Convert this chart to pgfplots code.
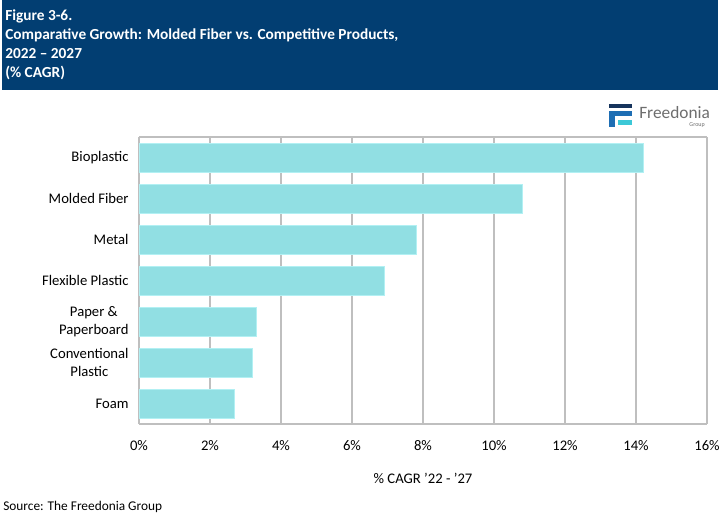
\documentclass[border=0pt]{standalone}
\usepackage{pgfplots}
\pgfplotsset{compat=1.18}
\usepackage{fontspec}
\setmainfont{Carlito}

\definecolor{titlebg}{RGB}{2,62,114}
\definecolor{barfill}{RGB}{145,223,227}
\definecolor{baredge}{RGB}{178,240,243}
\definecolor{gridgray}{RGB}{191,191,191}
\definecolor{logonavy}{RGB}{22,52,92}
\definecolor{logoblue}{RGB}{30,110,180}
\definecolor{logocyan}{RGB}{60,200,215}
\definecolor{logotext}{RGB}{110,110,110}

\begin{document}
\begin{tikzpicture}
% canvas 720 x 517 px, 1px = 0.75pt, origin bottom-left
\useasboundingbox (0,0) rectangle (540pt,387.75pt);
\begin{scope}[x=0.75pt,y=0.75pt]
\fill[white] (0,0) rectangle (720,517);

% title block
\fill[titlebg] (2,517) rectangle (718,427);
\node[anchor=north west, align=left, text=white, inner sep=0pt,
      font=\fontsize{11.5}{14.3}\selectfont\bfseries] at (5,508)
  {Figure 3-6.\\
   Comparative Growth: Molded Fiber vs. Competitive Products,\\
   2022 -- 2027\\
   (\% CAGR)};

% logo
\fill[logonavy] (609,413) rectangle (632,409);
\fill[logoblue] (609,406) rectangle (632,401);
\fill[logoblue] (609,406) rectangle (615,390);
\fill[logocyan] (618,397) rectangle (632,392);
\node[anchor=west, inner sep=0pt, text=logotext, font=\fontsize{13}{13}\selectfont] at (639,404) {Freedonia};
\node[anchor=north east, inner sep=0pt, text=logotext, font=\fontsize{4.5}{5}\selectfont] at (705,395) {Group};

% top border of plot area
\draw[gridgray, line width=1.1pt] (139,380) -- (707,380);

\node[font=\fontsize{11}{12}\selectfont] at (423,39) {\% CAGR '22 - '27};
\node[anchor=west, inner sep=0pt, font=\fontsize{10}{12}\selectfont] at (3,10) {Source: The Freedonia Group};
\end{scope}

\begin{axis}[
    at={(104.25pt,69.75pt)}, anchor=south west,
    scale only axis,
    width=426pt, height=215.25pt,
    xbar, bar width=21.75pt,
    xmin=0, xmax=16,
    ymin=-0.5, ymax=6.5,
    y dir=reverse,
    xtick={0,2,...,16},
    xticklabels={0\%,2\%,4\%,6\%,8\%,10\%,12\%,14\%,16\%},
    ytick={0,...,6},
    yticklabels={Bioplastic, Molded Fiber, Metal, Flexible Plastic,
                 {Paper \&\\Paperboard}, {Conventional\\Plastic}, Foam},
    yticklabel style={align=center, font=\fontsize{11}{13.5}\selectfont},
    xticklabel style={font=\fontsize{11}{12}\selectfont, yshift=-9pt},
    tick style={draw=none},
    xmajorgrids,
    grid style={gridgray, line width=1.1pt},
    axis line style={gridgray, line width=1.1pt},
    axis x line*=bottom, axis y line*=left,
]
\addplot[fill=barfill, draw=baredge, line width=0.6pt] coordinates {
  (14.2,0) (10.8,1) (7.8,2) (6.9,3) (3.3,4) (3.2,5) (2.7,6)
};
\end{axis}
\end{tikzpicture}
\end{document}
